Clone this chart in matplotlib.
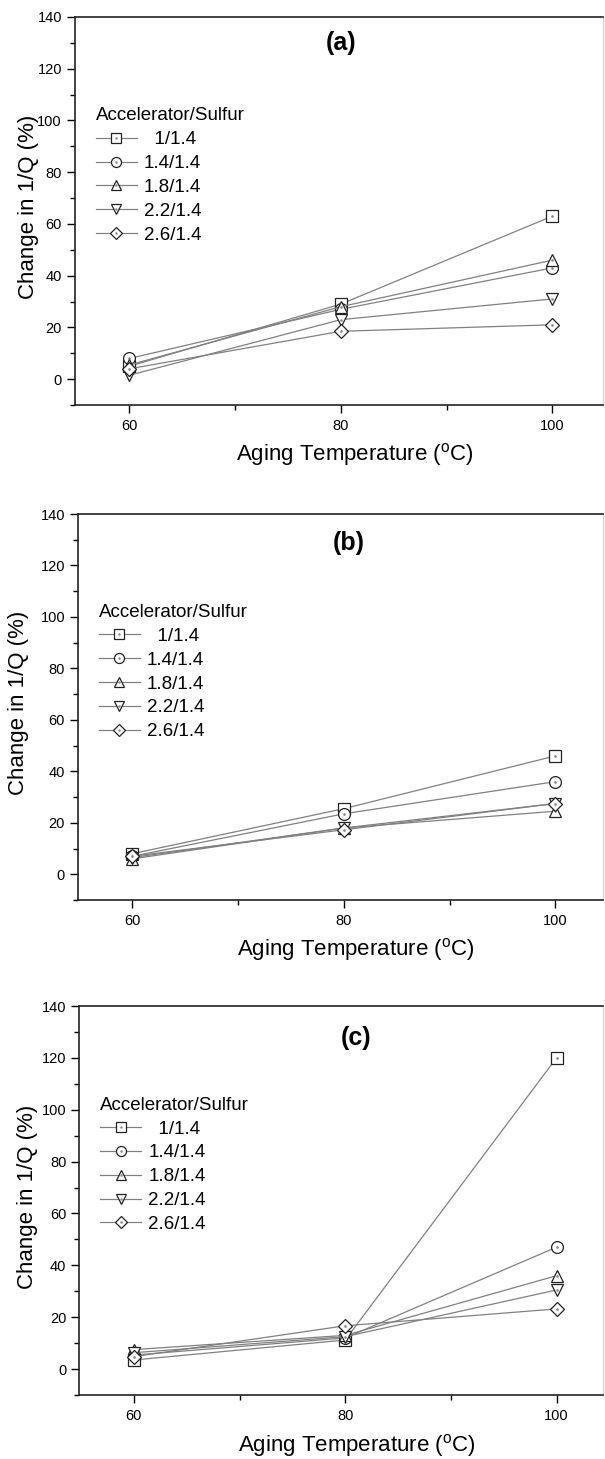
import matplotlib
matplotlib.use('Agg')
import matplotlib.pyplot as plt
import numpy as np

plt.rcParams['font.family'] = ['Liberation Sans', 'DejaVu Sans']

temps = [60, 80, 100]
ratios = ['  1/1.4', '1.4/1.4', '1.8/1.4', '2.2/1.4', '2.6/1.4']
markers = ['s', 'o', '^', 'v', 'D']

# change in 1/Q (%) per accelerator/sulfur ratio, one list per panel
panel_a = [[5.0, 29.0, 63.0],
           [8.0, 27.0, 43.0],
           [5.5, 28.0, 46.0],
           [1.5, 23.0, 31.0],
           [4.0, 18.5, 21.0]]
panel_b = [[8.0, 25.5, 46.0],
           [7.0, 23.5, 36.0],
           [6.0, 18.0, 24.5],
           [6.5, 18.0, 27.5],
           [7.0, 17.3, 27.5]]
panel_c = [[3.5, 11.2, 120.0],
           [5.4, 12.0, 47.0],
           [7.5, 13.0, 36.0],
           [6.3, 12.5, 30.5],
           [4.8, 16.7, 23.2]]
panels = [('(a)', panel_a), ('(b)', panel_b), ('(c)', panel_c)]

W, H = 605, 1459
fig = plt.figure(figsize=(W / 100, H / 100), dpi=100)

# per panel: axes box in pixels (left, top, bottom, right), x max,
# tag position, y label offset
layout = [((74.5, 17, 405, 603), 104.8, (80.0, 130.0), -0.067),
          ((77.5, 514, 900, 603), 104.5, (80.5, 128.8), -0.092),
          ((79.0, 1006, 1395, 603), 104.4, (81.0, 127.6), -0.078)]

for (tag, data), ((l, t, b, r), xmax, tagpos, ylab_x) in zip(panels, layout):
    ax = fig.add_axes([l / W, 1 - b / H, (r - l) / W, (b - t) / H])
    handles = []
    for vals, m, lab in zip(data, markers, ratios):
        ln, = ax.plot(temps, vals, color='#808080', lw=0.9, marker=m,
                      ms=8.5 if m != 'D' else 7.5, mfc='white', mec='#222222',
                      mew=0.9, label=lab)
        dot, = ax.plot(temps, vals, ls='none', marker='.', ms=1.8,
                       color='#888888')
        handles.append((ln, dot))

    ax.set_xlim(54.8, xmax)
    ax.set_ylim(-10, 140)
    ax.set_xticks([60, 80, 100])
    ax.set_xticks([70, 90], minor=True)
    ax.set_yticks(np.arange(0, 141, 20))
    ax.set_yticks(np.arange(-10, 141, 10), minor=True)
    ax.tick_params(which='major', direction='out', length=5.5, width=1,
                   labelsize=10.5, pad=3.5)
    ax.tick_params(which='minor', direction='out', length=3.5, width=1)
    ax.tick_params(axis='x', pad=4.5)
    for s in ['left', 'bottom', 'top']:
        ax.spines[s].set_linewidth(1.2)
        ax.spines[s].set_color('#222222')
    ax.spines['right'].set_color('#d0d0d0')
    ax.spines['right'].set_linewidth(0.8)

    ax.set_xlabel('Aging Temperature ($\\mathregular{^{o}}$C)', fontsize=16)
    ax.xaxis.set_label_coords(0.53, -0.094)
    ax.set_ylabel('Change in 1/Q (%)', fontsize=16)
    ax.yaxis.set_label_coords(ylab_x, 0.51)

    ax.text(tagpos[0], tagpos[1], tag, fontsize=18, fontweight='bold',
            ha='center', va='center')

    ax.legend(handles, ratios, loc='upper left',
              bbox_to_anchor=(0.04, 0.767), frameon=False,
              title='Accelerator/Sulfur', title_fontsize=13.5,
              fontsize=13.5, handlelength=2.2, handletextpad=0.37,
              labelspacing=0.36, borderpad=0, borderaxespad=0,
              alignment='left', numpoints=1, markerscale=0.85)

plt.savefig('out.png', dpi=100)
